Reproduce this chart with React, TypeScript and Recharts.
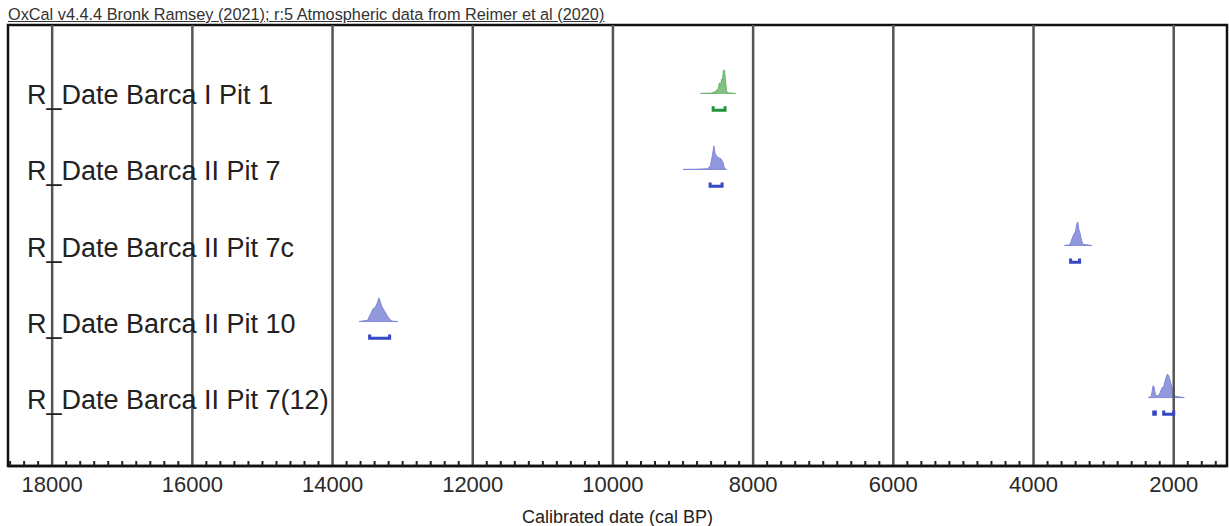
import {
  Area,
  ComposedChart,
  Line,
  ReferenceArea,
  ReferenceLine,
  XAxis,
  YAxis,
} from "recharts";

const ROW_NAMES = [
  "R_Date Barca I Pit 1",
  "R_Date Barca II Pit 7",
  "R_Date Barca II Pit 7c",
  "R_Date Barca II Pit 10",
  "R_Date Barca II Pit 7(12)",
];

// calibrated likelihoods: [cal BP, relative probability]
const PIT_1: [number, number][] = [
  [8750, 0], [8600, 0.01], [8560, 0.05], [8530, 0.1], [8500, 0.2],
  [8480, 0.45], [8465, 0.35], [8450, 0.6], [8440, 0.5], [8425, 0.95],
  [8410, 1.0], [8395, 0.6], [8380, 0.1], [8350, 0.02], [8250, 0],
];
const PIT_7: [number, number][] = [
  [9000, 0], [8800, 0.01], [8650, 0.03], [8610, 0.15], [8580, 0.6],
  [8560, 1.0], [8545, 0.7], [8520, 0.55], [8490, 0.5], [8460, 0.45],
  [8430, 0.3], [8410, 0.05], [8380, 0],
];
const PIT_7C: [number, number][] = [
  [3560, 0], [3480, 0.03], [3450, 0.3], [3420, 0.5], [3400, 0.6],
  [3385, 0.9], [3370, 1.0], [3355, 0.7], [3340, 0.55], [3320, 0.3],
  [3300, 0.05], [3170, 0],
];
const PIT_10: [number, number][] = [
  [13620, 0], [13500, 0.05], [13460, 0.3], [13420, 0.55], [13390, 0.6],
  [13360, 0.8], [13340, 1.0], [13320, 0.85], [13300, 0.65], [13260, 0.45],
  [13220, 0.25], [13180, 0.08], [13150, 0.02], [13070, 0],
];
const PIT_7_12: [number, number][] = [
  [2360, 0], [2320, 0.05], [2295, 0.5], [2280, 0.45], [2260, 0.1],
  [2230, 0.08], [2200, 0.15], [2170, 0.4], [2140, 0.5], [2110, 0.85],
  [2090, 1.0], [2070, 0.9], [2040, 0.6], [2010, 0.25], [1980, 0.05],
  [1850, 0],
];

// 95.4% ranges (from, to) cal BP
const RANGES_PIT_1: [number, number][] = [[8570, 8400]];
const RANGES_PIT_7: [number, number][] = [[8614, 8443]];
const RANGES_PIT_7C: [number, number][] = [[3471, 3343]];
const RANGES_PIT_10: [number, number][] = [[13471, 13186]];
const RANGES_PIT_7_12: [number, number][] = [[2285, 2262], [2143, 2000]];

const MAJOR_TICKS = [18000, 16000, 14000, 12000, 10000, 8000, 6000, 4000, 2000];
const X_DOMAIN = [1240, 18630];
const Y_DOMAIN = [-0.9, 4.9];

const ROWS = [
  { name: ROW_NAMES[0], dist: PIT_1, ranges: RANGES_PIT_1, fill: "#6fb46f", ink: "#23923a" },
  { name: ROW_NAMES[1], dist: PIT_7, ranges: RANGES_PIT_7, fill: "#7f86d6", ink: "#3647c4" },
  { name: ROW_NAMES[2], dist: PIT_7C, ranges: RANGES_PIT_7C, fill: "#7f86d6", ink: "#3647c4" },
  { name: ROW_NAMES[3], dist: PIT_10, ranges: RANGES_PIT_10, fill: "#7f86d6", ink: "#3647c4" },
  { name: ROW_NAMES[4], dist: PIT_7_12, ranges: RANGES_PIT_7_12, fill: "#7f86d6", ink: "#3647c4" },
];

const PEAK_H = 0.31; // row units
const BRACKET_DROP = 0.22;
const BRACKET_LIP = 0.05;
const FONT = "'Liberation Sans', Arial, Helvetica, sans-serif";

// row 0 sits at the top
const rowBase = (i: number) => ROWS.length - 1 - i;

const minorTicks: number[] = [];
for (let v = 1400; v <= 18600; v += 200) minorTicks.push(v);

function XTick(props: any) {
  const { x, y, payload } = props;
  const v = payload.value as number;
  if (MAJOR_TICKS.includes(v)) {
    return (
      <text
        x={x}
        y={y + 18}
        textAnchor="middle"
        dominantBaseline="central"
        fontFamily={FONT}
        fontSize={22}
        fill="#2a2a2a"
      >
        {v}
      </text>
    );
  }
  return <line x1={x} x2={x} y1={y} y2={y - 5} stroke="#222" strokeWidth={2} />;
}

function RowLabel(props: any) {
  const { x, y, payload } = props;
  const row = ROWS[ROWS.length - 1 - payload.value];
  if (!row) return null;
  return (
    <text
      x={x + 19}
      y={y + 2}
      dominantBaseline="central"
      fontFamily={FONT}
      fontSize={27}
      fill="#222"
    >
      {row.name}
    </text>
  );
}

export default function App() {
  return (
    <div style={{ position: "relative", width: 1229, height: 526, background: "#fff" }}>
      <style>{"body{margin:0}"}</style>
      <div
        style={{
          position: "absolute",
          left: 8,
          top: 6,
          fontFamily: FONT,
          fontSize: 16.3,
          lineHeight: "17px",
          color: "#333",
          textDecoration: "underline",
          whiteSpace: "nowrap",
        }}
      >
        OxCal v4.4.4 Bronk Ramsey (2021); r:5 Atmospheric data from Reimer et al (2020)
      </div>
      <ComposedChart
        width={1229}
        height={526}
        margin={{ top: 25, right: 2, bottom: 0, left: 8 }}
      >
        <XAxis
          type="number"
          dataKey="bp"
          domain={X_DOMAIN}
          reversed
          allowDataOverflow
          ticks={minorTicks}
          interval={0}
          tick={<XTick />}
          tickLine={false}
          tickSize={0}
          tickMargin={0}
          axisLine={{ stroke: "#111", strokeWidth: 2.5 }}
          height={60}
          label={{
            value: "Calibrated date (cal BP)",
            position: "insideBottom",
            offset: 3,
            fontFamily: FONT,
            fontSize: 18,
            fill: "#222",
          }}
        />
        <YAxis
          type="number"
          domain={Y_DOMAIN}
          allowDataOverflow
          mirror
          ticks={ROWS.map((_, i) => rowBase(i))}
          interval={0}
          tick={<RowLabel />}
          tickLine={false}
          tickSize={0}
          tickMargin={0}
          axisLine={false}
        />
        {MAJOR_TICKS.map((v) => (
          <ReferenceLine key={v} x={v} stroke="#555" strokeWidth={2.5} />
        ))}
        <ReferenceArea
          x1={X_DOMAIN[0]}
          x2={X_DOMAIN[1]}
          y1={Y_DOMAIN[0]}
          y2={Y_DOMAIN[1]}
          fill="none"
          fillOpacity={0}
          stroke="#111"
          strokeWidth={2.5}
          strokeOpacity={1}
          ifOverflow="visible"
        />
        {ROWS.map((row, i) => (
          <Area
            key={`d${i}`}
            data={row.dist.map(([bp, p]) => ({
              bp,
              r: [rowBase(i), rowBase(i) + p * PEAK_H],
            }))}
            dataKey="r"
            type="linear"
            fill={row.fill}
            fillOpacity={0.85}
            stroke={row.fill}
            strokeWidth={1}
            dot={false}
            activeDot={false}
            isAnimationActive={false}
          />
        ))}
        {ROWS.flatMap((row, i) =>
          row.ranges.map(([from, to], j) => {
            const yb = rowBase(i) - BRACKET_DROP;
            return (
              <Line
                key={`r${i}-${j}`}
                data={[
                  { bp: from, y: yb + BRACKET_LIP },
                  { bp: from, y: yb },
                  { bp: to, y: yb },
                  { bp: to, y: yb + BRACKET_LIP },
                ]}
                dataKey="y"
                type="linear"
                stroke={row.ink}
                strokeWidth={3}
                dot={false}
                activeDot={false}
                isAnimationActive={false}
              />
            );
          })
        )}
      </ComposedChart>
    </div>
  );
}
